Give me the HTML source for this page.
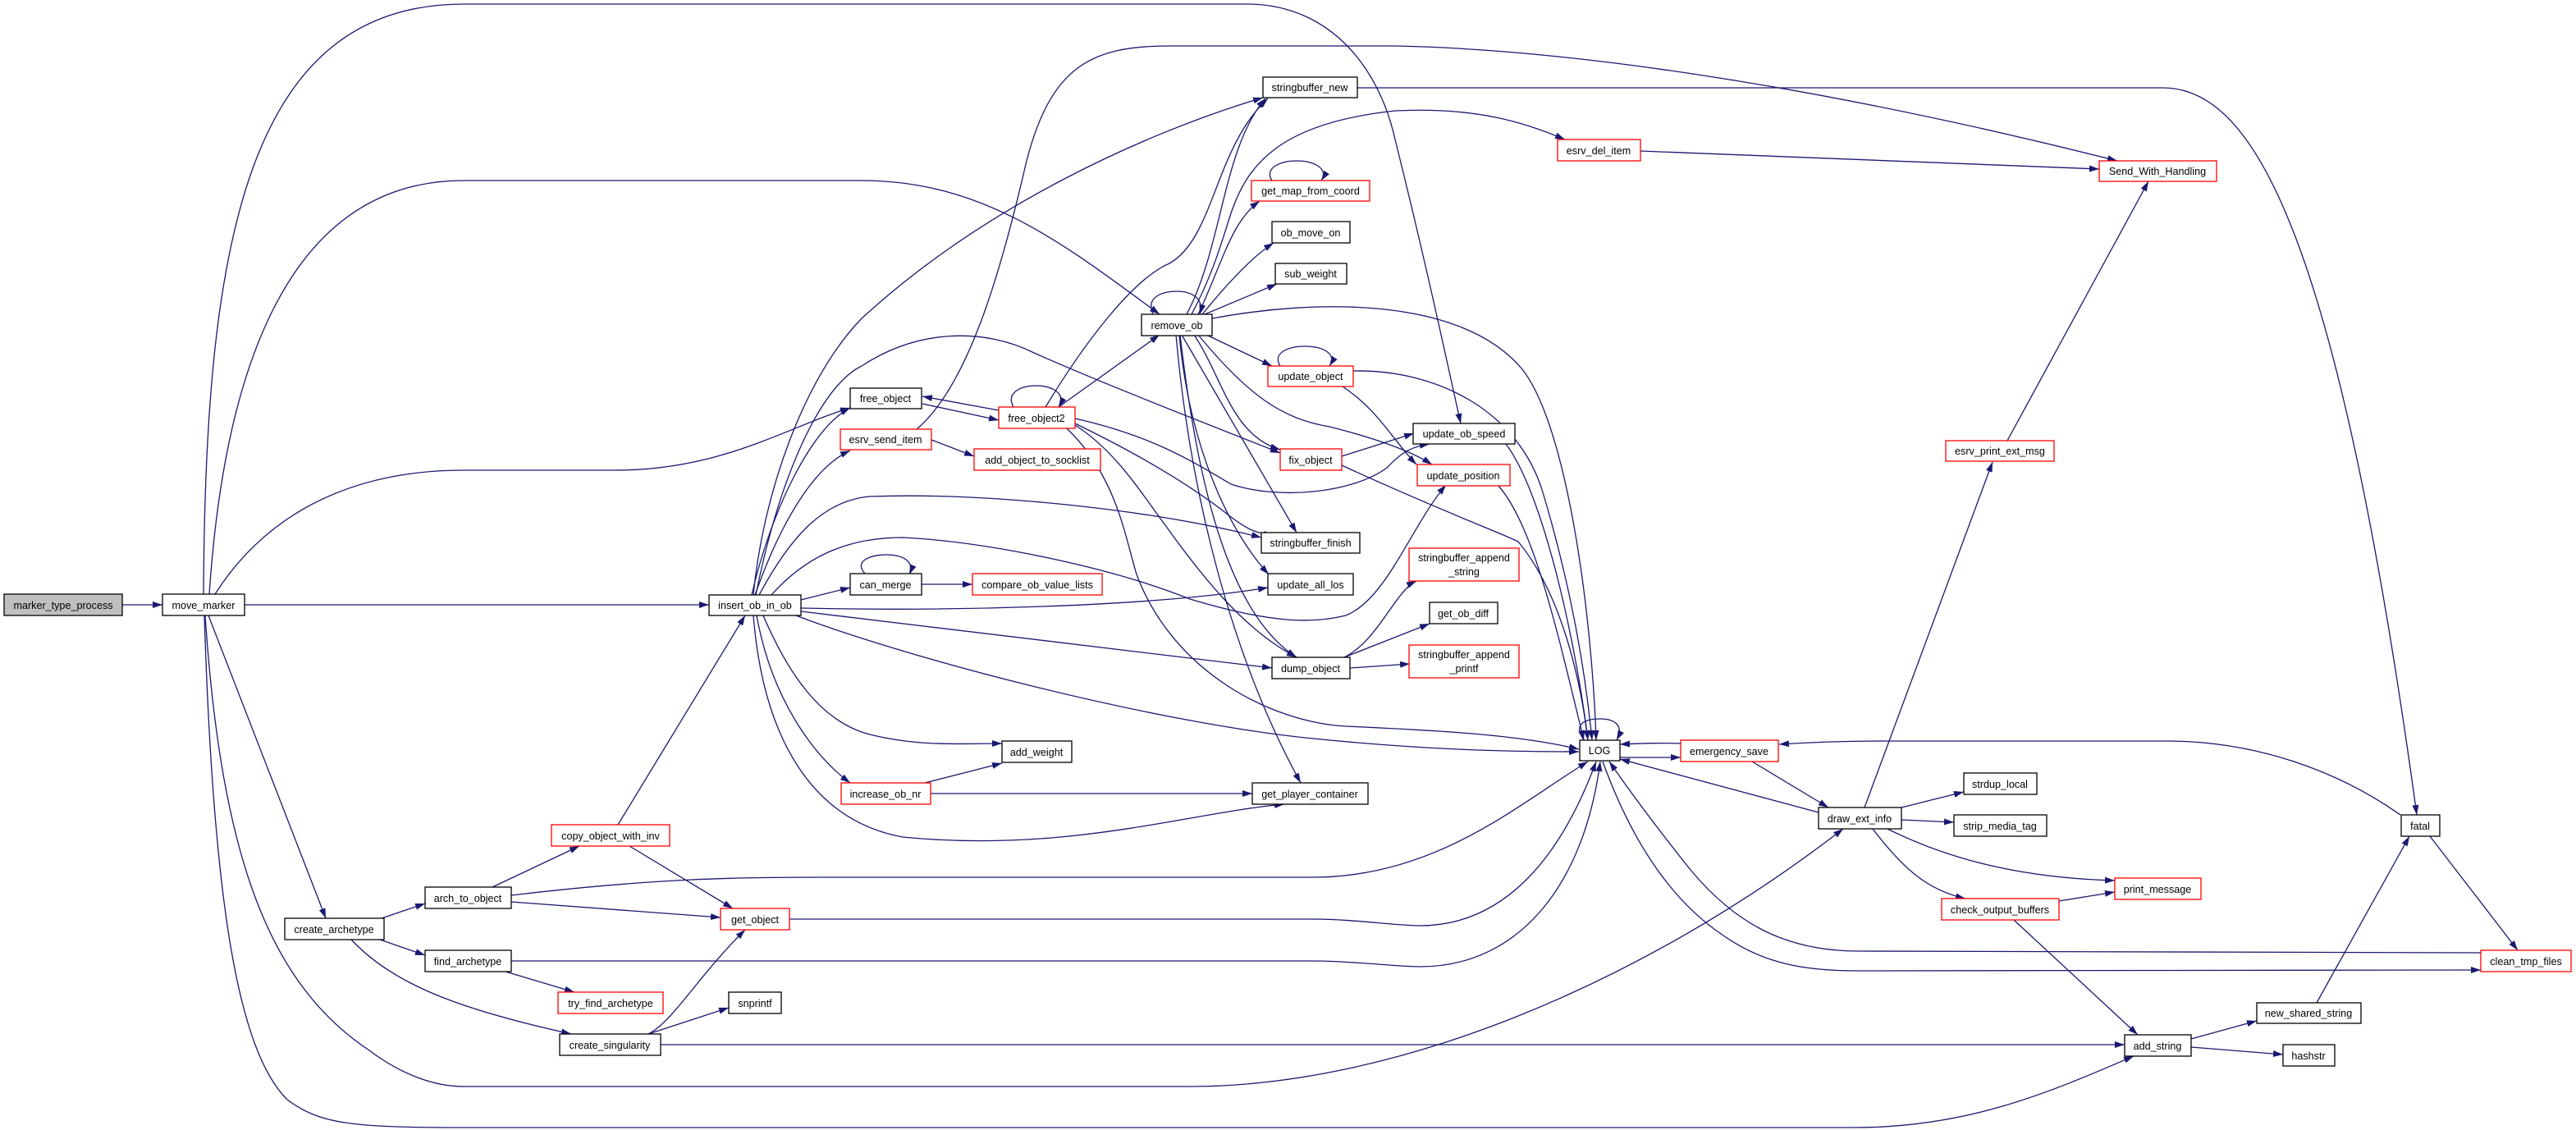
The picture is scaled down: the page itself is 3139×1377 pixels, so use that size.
<!DOCTYPE html>
<html><head><meta charset="utf-8"><style>
html,body{margin:0;padding:0;background:#fff;}
svg{display:block;}
text{font-family:"Liberation Sans",Arial,sans-serif;font-size:12.6px;fill:#000;}
.e{fill:none;stroke:#191970;stroke-width:1.3;}
</style></head><body>
<svg width="3139" height="1377" viewBox="0 0 3139 1377" xmlns="http://www.w3.org/2000/svg">
<defs>
<marker id="a" viewBox="0 0 12 8" refX="12" refY="4" markerWidth="12" markerHeight="8" markerUnits="userSpaceOnUse" orient="auto">
<path d="M0,0 L12,4 L0,8 z" fill="#191970"/>
</marker>
</defs>
<g class="e" marker-end="url(#a)">
<path d="M149,737 L198,737"/>
<path d="M298,737 L864,737"/>
<path d="M248,724 C250,300 300,5 565,5 L1525,5 C1620,8 1680,80 1700,170 C1740,330 1765,450 1780,516"/>
<path d="M255,724 C270,500 330,220 565,220 L1050,220 C1200,220 1300,300 1413,383"/>
<path d="M262,724 C290,680 370,573 565,573 L750,573 C880,573 960,520 1036,497"/>
<path d="M254,750 L397,1119"/>
<path d="M250,750 C270,1050 330,1200 450,1280 C490,1310 530,1324 565,1324 L1450,1324 C1700,1324 2000,1200 2246,1010"/>
<path d="M249,750 C260,1100 290,1280 350,1340 C390,1370 430,1374 565,1374 L2260,1374 C2400,1374 2500,1330 2600,1287"/>
<path d="M976,731 L1036,716"/>
<path d="M918,725 C930,600 980,460 1050,388 C1200,250 1400,160 1539,119"/>
<path d="M921,725 C950,580 1000,470 1050,446 C1120,400 1200,400 1260,430 C1350,470 1480,520 1560,552"/>
<path d="M1117,523 C1180,470 1220,330 1250,200 C1280,80 1330,56 1425,56 L1700,56 C1900,60 2200,100 2580,196"/>
<path d="M1452,383 C1480,330 1490,290 1500,260 C1520,200 1560,150 1700,135 C1800,130 1860,150 1907,170"/>
<path d="M1274,496 C1320,420 1380,340 1425,321 C1480,290 1480,180 1545,120"/>
<path d="M1999,184 L2558,206"/>
<path d="M1654,107 L2636,107 C2750,107 2850,300 2945,993"/>
<path d="M1405,383 C1395,360 1420,355 1434,355 C1450,355 1468,362 1462,383"/>
<path d="M1446,383 C1490,300 1490,180 1542,120"/>
<path d="M1460,383 C1490,320 1500,270 1535,245"/>
<path d="M1465,383 C1500,340 1530,310 1552,296"/>
<path d="M1468,383 L1556,346"/>
<path d="M1477,388 C1600,365 1780,360 1855,450 C1910,520 1940,750 1945,902"/>
<path d="M1470,408 L1550,446"/>
<path d="M1455,408 C1490,460 1500,530 1560,548"/>
<path d="M1460,408 C1520,480 1560,510 1620,520 C1680,535 1720,550 1745,566"/>
<path d="M1440,408 L1580,649"/>
<path d="M1437,408 C1450,550 1500,650 1546,700"/>
<path d="M1438,408 C1460,600 1500,750 1580,801"/>
<path d="M1433,408 C1450,600 1500,800 1585,954"/>
<path d="M1300,522 C1360,580 1370,650 1385,700 C1430,820 1550,880 1640,885 C1750,890 1850,895 1924,913"/>
<path d="M1217,500 L1124,483"/>
<path d="M1124,492 L1217,512"/>
<path d="M1235,496 C1225,478 1245,470 1262,470 C1280,470 1300,478 1290,496"/>
<path d="M1290,496 L1413,408"/>
<path d="M1310,510 C1400,530 1450,560 1500,590 C1560,610 1650,600 1690,570 C1705,555 1715,545 1742,541"/>
<path d="M1310,516 C1380,550 1450,590 1500,630 C1520,645 1530,650 1552,652"/>
<path d="M1310,518 C1360,550 1390,600 1420,640 C1470,710 1520,770 1580,801"/>
<path d="M1135,536 L1187,556"/>
<path d="M916,725 C940,620 990,520 1036,497"/>
<path d="M920,725 C950,640 990,570 1036,549"/>
<path d="M925,725 C960,660 1000,610 1060,605 C1200,600 1400,620 1537,655"/>
<path d="M976,741 C1150,745 1400,740 1545,716"/>
<path d="M976,745 L1550,814"/>
<path d="M970,750 C1100,800 1400,880 1600,900 C1750,915 1850,916 1924,916"/>
<path d="M940,725 C980,680 1030,655 1100,655 C1200,660 1350,690 1450,730 C1550,760 1600,760 1640,750 C1690,730 1720,640 1762,591"/>
<path d="M1054,699 C1040,684 1060,676 1080,676 C1100,676 1115,684 1108,700"/>
<path d="M1123,712 L1185,712"/>
<path d="M930,750 C960,820 1000,880 1060,895 C1120,910 1170,906 1221,906"/>
<path d="M922,750 C940,850 990,920 1036,954"/>
<path d="M918,750 C930,900 990,1000 1100,1020 C1300,1040 1450,990 1565,980"/>
<path d="M1127,954 L1221,930"/>
<path d="M1134,967 L1526,967"/>
<path d="M753,1005 L908,750"/>
<path d="M767,1031 L893,1107"/>
<path d="M600,1081 L706,1031"/>
<path d="M623,1099 L878,1118"/>
<path d="M623,1091 C800,1070 900,1069 1000,1069 L1600,1069 C1750,1069 1850,980 1935,928"/>
<path d="M962,1120 L1600,1120 C1650,1120 1700,1128 1730,1128 C1830,1128 1900,1050 1945,928"/>
<path d="M623,1171 L1600,1171 C1650,1171 1700,1178 1730,1178 C1850,1178 1930,1080 1950,928"/>
<path d="M616,1184 L700,1209"/>
<path d="M465,1119 L518,1101"/>
<path d="M463,1145 L518,1164"/>
<path d="M428,1145 C480,1200 560,1230 696,1260"/>
<path d="M790,1260 C820,1245 850,1190 908,1133"/>
<path d="M790,1260 L888,1228"/>
<path d="M805,1273 L2589,1273"/>
<path d="M1930,902 C1915,880 1935,876 1950,876 C1965,876 1980,882 1970,902"/>
<path d="M2048,906 C2020,905 2000,906 1974,907"/>
<path d="M1974,923 L2048,923"/>
<path d="M2216,990 L1974,925"/>
<path d="M2135,928 L2228,984"/>
<path d="M2272,984 L2428,563"/>
<path d="M2446,537 L2618,221"/>
<path d="M2317,984 L2393,965"/>
<path d="M2317,999 L2381,1002"/>
<path d="M2300,1010 C2380,1050 2470,1070 2577,1073"/>
<path d="M2282,1010 C2320,1060 2350,1085 2395,1095"/>
<path d="M2509,1098 L2577,1087"/>
<path d="M2454,1121 L2605,1261"/>
<path d="M2670,1266 L2750,1244"/>
<path d="M2670,1276 L2782,1285"/>
<path d="M2823,1222 L2936,1019"/>
<path d="M2925,993 C2850,940 2750,903 2640,903 L2300,903 C2250,903 2200,905 2168,907"/>
<path d="M2961,1019 L3068,1158"/>
<path d="M3023,1161 L2264,1159 C2170,1159 2110,1120 2060,1060 C2020,1010 1990,970 1961,928"/>
<path d="M1953,928 C1990,1030 2040,1100 2100,1140 C2150,1175 2200,1183 2264,1183 L3023,1182"/>
<path d="M1560,446 C1550,430 1570,422 1590,422 C1610,422 1630,430 1620,446"/>
<path d="M1636,471 C1680,500 1700,540 1726,566"/>
<path d="M1649,452 C1750,450 1850,500 1880,600 C1910,700 1930,800 1940,902"/>
<path d="M1635,556 L1723,528"/>
<path d="M1635,567 C1750,620 1830,650 1850,660 C1900,720 1925,820 1935,902"/>
<path d="M1835,541 C1880,600 1920,780 1935,902"/>
<path d="M1825,591 C1870,640 1900,780 1930,902"/>
<path d="M1638,801 C1680,780 1700,720 1726,708"/>
<path d="M1638,801 L1742,760"/>
<path d="M1645,814 L1718,809"/>
<path d="M1550,220 C1540,205 1560,196 1580,196 C1600,196 1620,205 1610,220"/>
</g>
<g stroke-width="1.3">
<rect x="5" y="724" width="144" height="26" fill="#bfbfbf" stroke="#000"/>
<rect x="198" y="724" width="100" height="26" fill="#fff" stroke="#000"/>
<rect x="864" y="725" width="112" height="25" fill="#fff" stroke="#000"/>
<rect x="672" y="1005" width="144" height="26" fill="#fff" stroke="#f00"/>
<rect x="518" y="1081" width="105" height="26" fill="#fff" stroke="#000"/>
<rect x="878" y="1107" width="84" height="26" fill="#fff" stroke="#f00"/>
<rect x="347" y="1119" width="121" height="26" fill="#fff" stroke="#000"/>
<rect x="518" y="1158" width="105" height="26" fill="#fff" stroke="#000"/>
<rect x="680" y="1209" width="128" height="26" fill="#fff" stroke="#f00"/>
<rect x="888" y="1209" width="64" height="26" fill="#fff" stroke="#000"/>
<rect x="682" y="1260" width="123" height="26" fill="#fff" stroke="#000"/>
<rect x="1036" y="699" width="87" height="26" fill="#fff" stroke="#000"/>
<rect x="1185" y="699" width="158" height="26" fill="#fff" stroke="#f00"/>
<rect x="1545" y="699" width="104" height="26" fill="#fff" stroke="#000"/>
<rect x="1717" y="668" width="134" height="40" fill="#fff" stroke="#f00"/>
<rect x="1742" y="734" width="83" height="26" fill="#fff" stroke="#000"/>
<rect x="1717" y="786" width="134" height="40" fill="#fff" stroke="#f00"/>
<rect x="1550" y="801" width="95" height="26" fill="#fff" stroke="#000"/>
<rect x="1925" y="902" width="49" height="25" fill="#fff" stroke="#000"/>
<rect x="2048" y="902" width="119" height="26" fill="#fff" stroke="#f00"/>
<rect x="1221" y="903" width="85" height="26" fill="#fff" stroke="#000"/>
<rect x="1025" y="954" width="109" height="26" fill="#fff" stroke="#f00"/>
<rect x="1526" y="954" width="141" height="26" fill="#fff" stroke="#000"/>
<rect x="1539" y="94" width="115" height="25" fill="#fff" stroke="#000"/>
<rect x="1898" y="170" width="101" height="26" fill="#fff" stroke="#f00"/>
<rect x="1525" y="220" width="144" height="25" fill="#fff" stroke="#f00"/>
<rect x="1550" y="270" width="95" height="26" fill="#fff" stroke="#000"/>
<rect x="1554" y="321" width="87" height="25" fill="#fff" stroke="#000"/>
<rect x="1391" y="383" width="86" height="26" fill="#fff" stroke="#000"/>
<rect x="1545" y="446" width="104" height="25" fill="#fff" stroke="#f00"/>
<rect x="1036" y="473" width="87" height="25" fill="#fff" stroke="#000"/>
<rect x="1217" y="496" width="93" height="26" fill="#fff" stroke="#f00"/>
<rect x="1024" y="523" width="111" height="25" fill="#fff" stroke="#f00"/>
<rect x="1187" y="547" width="154" height="26" fill="#fff" stroke="#f00"/>
<rect x="1560" y="547" width="75" height="26" fill="#fff" stroke="#f00"/>
<rect x="1722" y="516" width="124" height="25" fill="#fff" stroke="#000"/>
<rect x="1727" y="566" width="113" height="26" fill="#fff" stroke="#f00"/>
<rect x="1537" y="649" width="120" height="25" fill="#fff" stroke="#000"/>
<rect x="2558" y="196" width="143" height="25" fill="#fff" stroke="#f00"/>
<rect x="2371" y="537" width="132" height="25" fill="#fff" stroke="#f00"/>
<rect x="2216" y="984" width="101" height="26" fill="#fff" stroke="#000"/>
<rect x="2393" y="942" width="89" height="26" fill="#fff" stroke="#000"/>
<rect x="2381" y="993" width="113" height="26" fill="#fff" stroke="#000"/>
<rect x="2577" y="1070" width="105" height="26" fill="#fff" stroke="#f00"/>
<rect x="2366" y="1095" width="143" height="26" fill="#fff" stroke="#f00"/>
<rect x="2926" y="993" width="47" height="26" fill="#fff" stroke="#000"/>
<rect x="3023" y="1158" width="110" height="26" fill="#fff" stroke="#f00"/>
<rect x="2750" y="1222" width="127" height="25" fill="#fff" stroke="#000"/>
<rect x="2589" y="1261" width="81" height="26" fill="#fff" stroke="#000"/>
<rect x="2782" y="1273" width="63" height="26" fill="#fff" stroke="#000"/>
</g>
<g text-anchor="middle">
<text x="77" y="742">marker_type_process</text>
<text x="248" y="742">move_marker</text>
<text x="920" y="742">insert_ob_in_ob</text>
<text x="744" y="1023">copy_object_with_inv</text>
<text x="570" y="1099">arch_to_object</text>
<text x="920" y="1125">get_object</text>
<text x="407" y="1137">create_archetype</text>
<text x="570" y="1176">find_archetype</text>
<text x="744" y="1227">try_find_archetype</text>
<text x="920" y="1227">snprintf</text>
<text x="743" y="1278">create_singularity</text>
<text x="1079" y="717">can_merge</text>
<text x="1264" y="717">compare_ob_value_lists</text>
<text x="1597" y="717">update_all_los</text>
<text x="1784" y="684">stringbuffer_append</text>
<text x="1784" y="701">_string</text>
<text x="1783" y="752">get_ob_diff</text>
<text x="1784" y="802">stringbuffer_append</text>
<text x="1784" y="819">_printf</text>
<text x="1597" y="819">dump_object</text>
<text x="1949" y="919">LOG</text>
<text x="2107" y="920">emergency_save</text>
<text x="1263" y="921">add_weight</text>
<text x="1079" y="972">increase_ob_nr</text>
<text x="1596" y="972">get_player_container</text>
<text x="1596" y="111">stringbuffer_new</text>
<text x="1948" y="188">esrv_del_item</text>
<text x="1597" y="237">get_map_from_coord</text>
<text x="1597" y="288">ob_move_on</text>
<text x="1597" y="338">sub_weight</text>
<text x="1434" y="401">remove_ob</text>
<text x="1597" y="463">update_object</text>
<text x="1079" y="490">free_object</text>
<text x="1263" y="514">free_object2</text>
<text x="1079" y="540">esrv_send_item</text>
<text x="1264" y="565">add_object_to_socklist</text>
<text x="1597" y="565">fix_object</text>
<text x="1784" y="533">update_ob_speed</text>
<text x="1783" y="584">update_position</text>
<text x="1597" y="666">stringbuffer_finish</text>
<text x="2629" y="213">Send_With_Handling</text>
<text x="2437" y="554">esrv_print_ext_msg</text>
<text x="2266" y="1002">draw_ext_info</text>
<text x="2437" y="960">strdup_local</text>
<text x="2437" y="1011">strip_media_tag</text>
<text x="2629" y="1088">print_message</text>
<text x="2437" y="1113">check_output_buffers</text>
<text x="2949" y="1011">fatal</text>
<text x="3078" y="1176">clean_tmp_files</text>
<text x="2813" y="1239">new_shared_string</text>
<text x="2629" y="1279">add_string</text>
<text x="2813" y="1291">hashstr</text>
</g>
</svg>
</body></html>
